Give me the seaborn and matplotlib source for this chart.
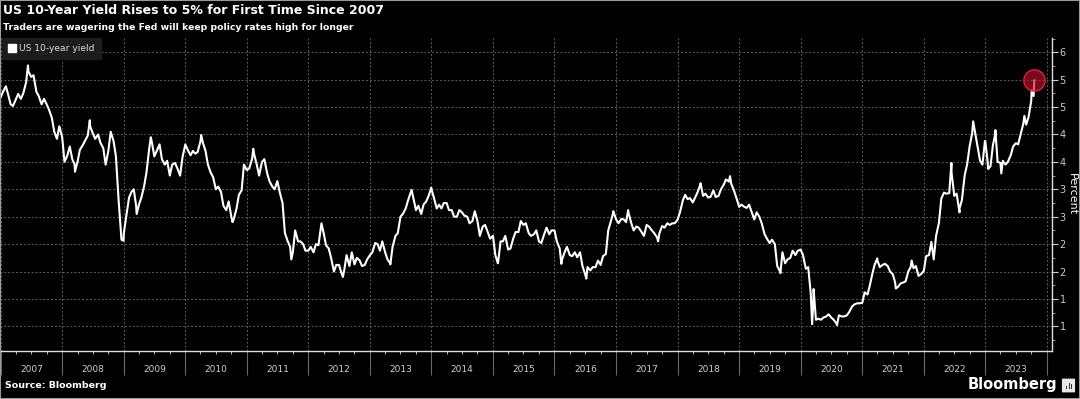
import matplotlib
matplotlib.use('Agg')
import matplotlib.pyplot as plt
import matplotlib.dates as mdates
import matplotlib.ticker as mticker
from matplotlib.patches import Patch, Rectangle, FancyBboxPatch
import numpy as np
import pandas as pd
import seaborn as sns

# semi-monthly readings (1st and 15th of each month), percent
y2007 = [4.68, 4.78, 4.88, 4.72, 4.55, 4.52, 4.64, 4.74, 4.65, 4.75, 4.95, 5.15,
         5.05, 5.08, 4.78, 4.70, 4.55, 4.65, 4.55, 4.45, 4.30, 4.05, 3.92, 4.15]
y2008 = [3.95, 3.50, 3.62, 3.78, 3.55, 3.45, 3.50, 3.72, 3.80, 3.88, 3.98, 4.15,
         4.02, 3.92, 4.00, 3.85, 3.75, 3.45, 3.70, 4.05, 3.88, 3.60, 2.80, 2.20]
y2009 = [2.20, 2.50, 2.85, 2.95, 3.00, 2.70, 2.72, 2.85, 3.05, 3.30, 3.75, 3.88,
         3.60, 3.70, 3.82, 3.55, 3.45, 3.52, 3.25, 3.45, 3.48, 3.38, 3.25, 3.58]
y2010 = [3.82, 3.72, 3.62, 3.70, 3.65, 3.68, 3.88, 3.85, 3.70, 3.45, 3.30, 3.22,
         3.00, 3.05, 2.95, 2.70, 2.62, 2.78, 2.50, 2.45, 2.65, 2.90, 2.98, 3.45]
y2011 = [3.35, 3.38, 3.55, 3.62, 3.45, 3.25, 3.50, 3.55, 3.30, 3.15, 3.05, 3.00,
         3.15, 2.95, 2.75, 2.20, 2.05, 1.95, 1.85, 2.25, 2.05, 2.05, 2.00, 1.88]
y2012 = [1.88, 1.95, 1.85, 2.00, 1.98, 2.30, 2.20, 1.98, 1.92, 1.75, 1.50, 1.62,
         1.62, 1.48, 1.52, 1.80, 1.60, 1.85, 1.63, 1.75, 1.70, 1.60, 1.62, 1.72]
y2013 = [1.80, 1.85, 2.02, 2.00, 1.88, 2.05, 1.85, 1.72, 1.65, 1.95, 2.15, 2.20,
         2.50, 2.55, 2.65, 2.80, 2.95, 2.85, 2.62, 2.70, 2.55, 2.72, 2.78, 2.88]
y2014 = [3.00, 2.85, 2.65, 2.72, 2.65, 2.75, 2.75, 2.62, 2.62, 2.50, 2.50, 2.62,
         2.58, 2.52, 2.50, 2.38, 2.42, 2.60, 2.42, 2.15, 2.32, 2.35, 2.22, 2.10]
y2015 = [2.15, 1.80, 1.68, 2.05, 2.05, 2.15, 1.90, 1.92, 2.10, 2.22, 2.22, 2.42,
         2.35, 2.38, 2.20, 2.15, 2.18, 2.25, 2.05, 2.02, 2.18, 2.30, 2.18, 2.25]
y2016 = [2.25, 2.05, 1.92, 1.72, 1.85, 1.95, 1.80, 1.78, 1.85, 1.76, 1.85, 1.60,
         1.45, 1.58, 1.52, 1.58, 1.58, 1.70, 1.62, 1.78, 1.82, 2.25, 2.42, 2.58]
y2017 = [2.45, 2.38, 2.46, 2.45, 2.40, 2.58, 2.38, 2.25, 2.32, 2.30, 2.22, 2.15,
         2.35, 2.32, 2.25, 2.20, 2.12, 2.20, 2.33, 2.30, 2.38, 2.35, 2.38, 2.38]
y2018 = [2.45, 2.58, 2.80, 2.90, 2.82, 2.84, 2.76, 2.85, 2.96, 3.08, 2.88, 2.92,
         2.85, 2.86, 2.98, 2.86, 2.88, 3.00, 3.08, 3.18, 3.14, 3.10, 2.98, 2.85]
y2019 = [2.68, 2.72, 2.68, 2.66, 2.72, 2.60, 2.45, 2.58, 2.50, 2.38, 2.18, 2.10,
         2.02, 2.08, 2.00, 1.60, 1.50, 1.85, 1.65, 1.72, 1.75, 1.88, 1.80, 1.88]
y2020 = [1.90, 1.80, 1.55, 1.58, 1.10, 0.85, 0.62, 0.64, 0.62, 0.66, 0.68, 0.72,
         0.66, 0.62, 0.55, 0.70, 0.68, 0.68, 0.70, 0.76, 0.86, 0.90, 0.92, 0.92]
y2021 = [0.93, 1.12, 1.08, 1.25, 1.45, 1.62, 1.70, 1.58, 1.62, 1.64, 1.60, 1.50,
         1.45, 1.30, 1.22, 1.28, 1.30, 1.32, 1.50, 1.58, 1.56, 1.60, 1.42, 1.45]
y2022 = [1.51, 1.78, 1.80, 2.04, 1.72, 2.15, 2.39, 2.83, 2.94, 2.92, 2.93, 3.30,
         2.88, 2.92, 2.65, 2.80, 3.26, 3.45, 3.80, 4.02, 4.05, 3.80, 3.52, 3.45]
y2023 = [3.88, 3.50, 3.42, 3.80, 4.00, 3.50, 3.48, 3.52, 3.45, 3.50, 3.62, 3.78,
         3.84, 3.82, 4.03, 4.20, 4.18, 4.32, 4.62, 4.70]

# turning points between the semi-monthly readings
turn_dates = ['2007-06-12', '2008-03-17', '2008-06-13', '2008-12-18', '2008-12-30',
              '2009-03-18', '2009-06-10', '2010-04-05', '2010-10-08', '2011-02-08',
              '2011-09-22', '2012-03-19', '2012-07-24', '2013-05-02', '2013-09-05',
              '2013-12-31', '2015-01-30', '2016-02-11', '2016-07-08', '2016-12-15',
              '2017-03-13', '2017-09-07', '2018-05-17', '2018-11-08', '2019-09-03',
              '2020-03-09', '2020-03-18', '2020-08-04', '2021-03-31', '2021-07-19',
              '2021-10-21', '2022-06-14', '2022-08-01', '2022-10-21', '2022-12-30',
              '2023-01-18', '2023-03-02', '2023-04-06', '2023-08-21', '2023-10-03',
              '2023-10-19']
turn_vals = [5.26, 3.32, 4.26, 2.08, 2.06,
             2.55, 3.95, 3.99, 2.40, 3.74,
             1.72, 2.38, 1.40, 1.63, 2.99,
             3.03, 1.65, 1.64, 1.37, 2.60,
             2.62, 2.05, 3.11, 3.24, 1.47,
             0.54, 1.18, 0.52, 1.74, 1.19,
             1.70, 3.48, 2.58, 4.24, 3.88,
             3.37, 4.08, 3.29, 4.34, 4.81,
             4.99]

years = list(range(2007, 2024))
y_ticks = [0.5, 1.0, 1.5, 2.0, 2.5, 3.0, 3.5, 4.0, 4.5, 5.0, 5.5]

semi = y2007 + y2008 + y2009 + y2010 + y2011 + y2012 + y2013 + y2014 + y2015 + \
    y2016 + y2017 + y2018 + y2019 + y2020 + y2021 + y2022 + y2023
semi_dates = pd.date_range('2007-01-01', '2023-10-15', freq='SMS')
df = pd.concat([pd.DataFrame({'date': semi_dates, 'yield': semi}),
                pd.DataFrame({'date': pd.to_datetime(turn_dates), 'yield': turn_vals})])
df = df.sort_values('date').reset_index(drop=True)

sns.set_style('ticks')
plt.rcParams['font.family'] = ['DejaVu Sans']

fig = plt.figure(figsize=(10.8, 3.99), dpi=100, facecolor='black')
ax = fig.add_axes([0.0, 48 / 399, 1052 / 1080, 313 / 399])
ax.set_facecolor('black')

sns.lineplot(data=df, x='date', y='yield', color='white', linewidth=1.5,
             estimator=None, ax=ax, zorder=3)

last = df.iloc[-1]
ax.scatter([last['date']], [last['yield']], s=235, facecolor=(0.78, 0.06, 0.18, 0.62),
           edgecolor='#d8243f', linewidth=1.0, zorder=4)

ax.set_xlim(pd.Timestamp('2006-12-28'), pd.Timestamp('2024-02-01'))
ax.set_ylim(0.05, 5.76)

# y axis on the right
ax.yaxis.tick_right()
ax.yaxis.set_label_position('right')
ax.set_yticks(y_ticks)
ax.yaxis.set_major_formatter(mticker.FuncFormatter(lambda v, p: f"{int(np.floor(v + 0.5))}"))
ax.yaxis.set_minor_locator(mticker.MultipleLocator(0.25))
ax.tick_params(axis='y', which='major', direction='out', length=4, width=0.8,
               colors='#cccccc', labelsize=7, pad=1.5)
ax.tick_params(axis='y', which='minor', direction='out', length=2, width=0.6, colors='#aaaaaa')
ax.set_ylabel('Percent', rotation=270, color='white', fontsize=8, ha='center', va='center')
ax.yaxis.set_label_coords(1072 / 1052, 0.5)

# x axis: year separators, quarter ticks, labels in the middle of each year
ax.xaxis.set_major_locator(mdates.YearLocator())
ax.xaxis.set_minor_locator(mdates.MonthLocator(bymonth=[4, 7, 10]))
ax.xaxis.set_major_formatter(mticker.NullFormatter())
ax.tick_params(axis='x', which='major', direction='out', length=17, width=0.8, colors='#6a6a6a')
ax.tick_params(axis='x', which='minor', direction='out', length=2.5, width=0.7, colors='#bbbbbb')
for yr in years:
    ax.text(pd.Timestamp(f'{yr}-07-02'), -19 / 313, str(yr), transform=ax.get_xaxis_transform(),
            ha='center', va='center', color='#d0d0d0', fontsize=6.5)

ax.set_xlabel('')
ax.grid(True, which='major', color='#5e5e5e', linestyle=(0, (2, 2)), linewidth=0.7)
ax.set_axisbelow(True)

for side in ['top', 'left']:
    ax.spines[side].set_visible(False)
for side in ['right', 'bottom']:
    ax.spines[side].set_color('#dddddd')
    ax.spines[side].set_linewidth(1.0)

leg = ax.legend(handles=[Patch(facecolor='white', edgecolor='white', label='US 10-year yield')],
                loc='upper left', bbox_to_anchor=(0.002, 1.0), borderaxespad=0,
                frameon=True, fontsize=6.6, handlelength=0.9, handleheight=0.9,
                handletextpad=0.3, borderpad=0.65, fancybox=False)
leg.get_frame().set_facecolor('#1c1c1c')
leg.get_frame().set_edgecolor('#1c1c1c')
leg.get_frame().set_alpha(1)
for t in leg.get_texts():
    t.set_color('#dddddd')

fig.text(0.003, 1 - 11 / 399, 'US 10-Year Yield Rises to 5% for First Time Since 2007',
         color='white', fontsize=9.0, fontweight='bold', va='center', ha='left')
fig.text(0.003, 1 - 27 / 399, 'Traders are wagering the Fed will keep policy rates high for longer',
         color='white', fontsize=6.7, fontweight='bold', va='center', ha='left')
fig.text(0.005, 1 - 386 / 399, 'Source: Bloomberg', color='white', fontsize=6.8,
         fontweight='bold', va='center', ha='left')
fig.text(1057 / 1080, 1 - 385 / 399, 'Bloomberg', color='white', fontsize=10.5,
         fontweight='bold', va='center', ha='right')

# small logo badge next to the wordmark
fig.add_artist(FancyBboxPatch((1063 / 1080, 1 - 392 / 399), 11 / 1080, 13 / 399,
                              boxstyle='round,pad=0.001', transform=fig.transFigure,
                              facecolor='#e8e8e8', edgecolor='none'))
for bx, bh in [(1066, 3), (1068.5, 6), (1071, 4.5)]:
    fig.add_artist(Rectangle((bx / 1080, 1 - 388.5 / 399), 1.2 / 1080, bh / 399,
                             transform=fig.transFigure, facecolor='#333333', edgecolor='none'))

fig.add_artist(Rectangle((0, 0), 1, 1, transform=fig.transFigure, fill=False,
                         edgecolor='#9a9a9a', linewidth=1.5))

fig.savefig('out.png', dpi=100, facecolor='black')
